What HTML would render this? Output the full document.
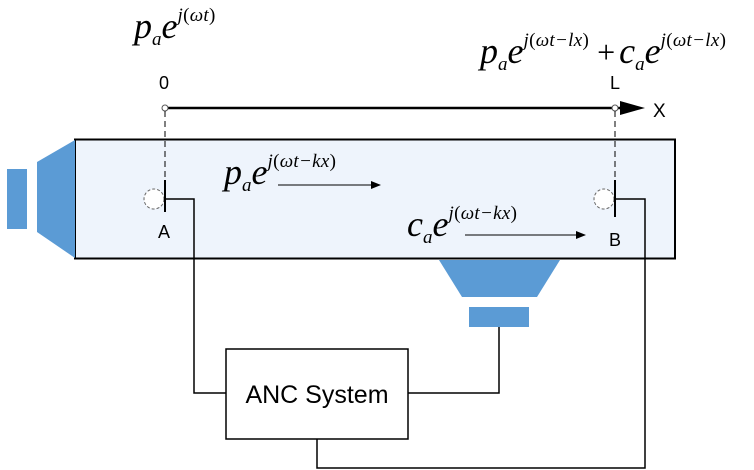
<!DOCTYPE html>
<html><head><meta charset="utf-8"><style>
html,body{margin:0;padding:0;background:#fff;}
svg{display:block;}
.m{font-family:"Liberation Serif",serif;font-style:italic;}
.s{font-family:"Liberation Sans",sans-serif;}
.sp{font-size:19px;letter-spacing:0.3px;}
.n{font-style:normal;}
</style></head><body>
<svg width="754" height="470" viewBox="0 0 754 470" xmlns="http://www.w3.org/2000/svg">
<defs><marker id="ah" markerWidth="10" markerHeight="8" refX="9" refY="4" orient="auto" markerUnits="userSpaceOnUse"><path d="M0,0 L10,4 L0,8 Z" fill="#000"/></marker></defs>
<rect x="75" y="139.5" width="600" height="119" fill="#eef4fc" stroke="#000" stroke-width="2"/>
<rect x="7" y="169" width="20" height="60" fill="#5b9bd5"/>
<polygon points="37,162 75,140 75,258 37,232" fill="#5b9bd5"/>
<polygon points="439,260 560,260 537,297 462,297" fill="#5b9bd5"/>
<rect x="469" y="307" width="60" height="20" fill="#5b9bd5"/>
<line x1="165" y1="108" x2="635" y2="108" stroke="#000" stroke-width="2.5"/>
<polygon points="620,101 645,108 620,115" fill="#000"/>
<circle cx="165" cy="108" r="3" fill="#fff" stroke="#555" stroke-width="1"/>
<circle cx="615" cy="108" r="3" fill="#fff" stroke="#555" stroke-width="1"/>
<text x="653" y="117" class="s" font-size="19">X</text>
<text x="159" y="89" class="s" font-size="18">0</text>
<text x="610" y="89" class="s" font-size="18">L</text>
<line x1="165" y1="111" x2="165" y2="180" stroke="#000" stroke-width="1" stroke-dasharray="6,4"/>
<line x1="615" y1="111" x2="615" y2="180" stroke="#000" stroke-width="1" stroke-dasharray="6,4"/>
<circle cx="154" cy="199" r="10" fill="#fff" stroke="#666" stroke-width="1" stroke-dasharray="3,2"/>
<line x1="165" y1="180" x2="165" y2="212" stroke="#000" stroke-width="2"/>
<polyline points="165,199 194,199 194,393 226,393" fill="none" stroke="#000" stroke-width="1.5"/>
<text x="158" y="238" class="s" font-size="18">A</text>
<circle cx="604" cy="199" r="10" fill="#fff" stroke="#666" stroke-width="1" stroke-dasharray="3,2"/>
<line x1="615" y1="180" x2="615" y2="217" stroke="#000" stroke-width="2"/>
<polyline points="615,199 645,199 645,468 317,468 317,439" fill="none" stroke="#000" stroke-width="1.5"/>
<text x="609" y="246" class="s" font-size="18">B</text>
<rect x="226" y="349" width="182" height="90" fill="#fff" stroke="#000" stroke-width="1.5"/>
<text x="317" y="403" class="s" font-size="25" text-anchor="middle">ANC System</text>
<polyline points="408,393 499,393 499,327" fill="none" stroke="#000" stroke-width="1.5"/>
<text x="134" y="38" class="m" font-size="36">p<tspan font-size="19" dy="7">a</tspan><tspan font-size="36" dy="-7">e</tspan><tspan class="sp" dy="-17">j<tspan class="n">(</tspan>ωt<tspan class="n">)</tspan></tspan></text>
<text x="480" y="63" class="m" font-size="36">p<tspan font-size="19" dy="7">a</tspan><tspan font-size="36" dy="-7">e</tspan><tspan class="sp" dy="-17">j<tspan class="n">(</tspan>ωt−lx<tspan class="n">)</tspan></tspan><tspan font-size="32" dy="17" class="n"> +</tspan><tspan font-size="36" dx="4">c</tspan><tspan font-size="19" dy="7">a</tspan><tspan font-size="36" dy="-7">e</tspan><tspan class="sp" dy="-17">j<tspan class="n">(</tspan>ωt−lx<tspan class="n">)</tspan></tspan></text>
<text x="224" y="184" class="m" font-size="36">p<tspan font-size="19" dy="7">a</tspan><tspan font-size="36" dy="-7">e</tspan><tspan class="sp" dy="-17">j<tspan class="n">(</tspan>ωt−kx<tspan class="n">)</tspan></tspan></text>
<line x1="278" y1="185" x2="380" y2="185" stroke="#000" stroke-width="1" marker-end="url(#ah)"/>
<text x="407" y="236" class="m" font-size="36">c<tspan font-size="19" dy="7">a</tspan><tspan font-size="36" dy="-7">e</tspan><tspan class="sp" dy="-17">j<tspan class="n">(</tspan>ωt−kx<tspan class="n">)</tspan></tspan></text>
<line x1="465" y1="235" x2="585" y2="235" stroke="#000" stroke-width="1" marker-end="url(#ah)"/>
</svg>
</body></html>
